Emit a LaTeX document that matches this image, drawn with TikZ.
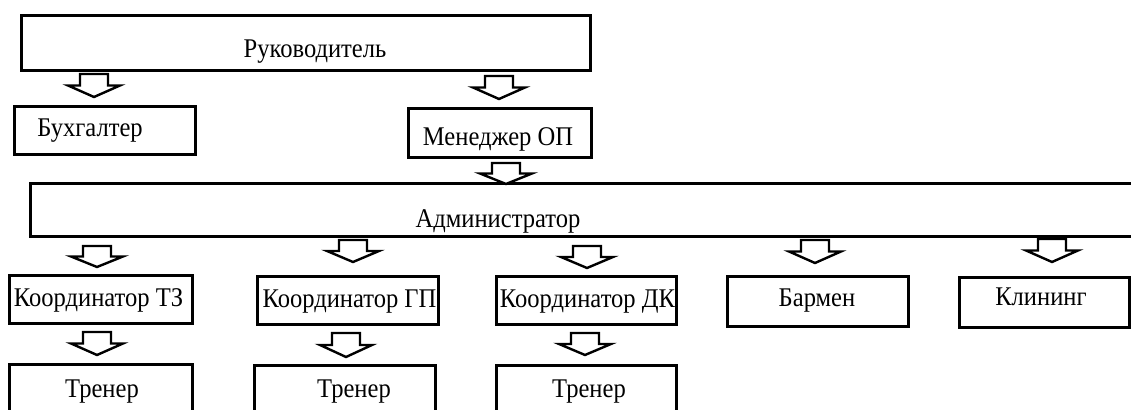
\documentclass[tikz,border=0pt]{standalone}
\usepackage{fontspec}
\setmainfont{Liberation Serif}[FakeStretch=0.91]
\newcommand\blockarr[3]{% tip x, top y, tip y
  \draw[barr] (#1-14,#2) -- (#1+14,#2) -- (#1+14,{(#2+#3)/2}) -- (#1+26,{(#2+#3)/2})
    -- (#1,#3) -- (#1-26,{(#2+#3)/2}) -- (#1-14,{(#2+#3)/2}) -- cycle;}
\begin{document}
\begin{tikzpicture}[x=0.5pt,y=-0.5pt,
  box/.style={draw, line width=1.5pt, inner sep=0pt, outer sep=0pt, anchor=north west},
  lbl/.style={anchor=base, inner sep=0pt, font=\fontsize{13.5pt}{16pt}\selectfont},
  barr/.style={draw, line width=1.2pt, fill=white, line join=miter}]
\useasboundingbox (0,0) rectangle (1131,410);
\clip (0,0) rectangle (1131,410);
% boxes
\node[box, minimum width=569*0.5pt, minimum height=55*0.5pt] (ruk) at (21,16) {};
\node[box, minimum width=181*0.5pt, minimum height=48*0.5pt] (buh) at (14,107) {};
\node[box, minimum width=183*0.5pt, minimum height=49*0.5pt] (men) at (408,109) {};
\node[box, minimum width=1200*0.5pt, minimum height=53*0.5pt] (adm) at (30,184) {};
\node[box, minimum width=183*0.5pt, minimum height=48*0.5pt] (ktz) at (9,276) {};
\node[box, minimum width=181*0.5pt, minimum height=48*0.5pt] (kgp) at (257,277) {};
\node[box, minimum width=180*0.5pt, minimum height=48*0.5pt] (kdk) at (496,277) {};
\node[box, minimum width=181*0.5pt, minimum height=50*0.5pt] (bar) at (727,277) {};
\node[box, minimum width=170*0.5pt, minimum height=50*0.5pt] (kli) at (959,278) {};
\node[box, minimum width=183*0.5pt, minimum height=80*0.5pt] (tr1) at (9,365) {};
\node[box, minimum width=181*0.5pt, minimum height=80*0.5pt] (tr2) at (254,366) {};
\node[box, minimum width=180*0.5pt, minimum height=80*0.5pt] (tr3) at (496,366) {};
% labels
\node[lbl] (rukt) at (315,58) {Руководитель};
\node[lbl] (buht) at (90,137) {Бухгалтер};
\node[lbl] (ment) at (498,146) {Менеджер ОП};
\node[lbl] (admt) at (498,228) {Администратор};
\node[lbl] (ktzt) at (98.5,307) {Координатор ТЗ};
\node[lbl] (kgpt) at (349.5,308) {Координатор ГП};
\node[lbl] (kdkt) at (587.5,308) {Координатор ДК};
\node[lbl] (bart) at (817,307) {Бармен};
\node[lbl] (klit) at (1041,306) {Клининг};
\node[lbl] (tr1t) at (102,398) {Тренер};
\node[lbl] (tr2t) at (354,398) {Тренер};
\node[lbl] (tr3t) at (589,398) {Тренер};
% block arrows
\blockarr{94}{74}{97}
\blockarr{499}{76}{99}
\blockarr{506}{163}{184}
\blockarr{97}{246}{267}
\blockarr{353}{240}{262}
\blockarr{587}{246}{268}
\blockarr{815}{240}{263}
\blockarr{1052}{239}{262}
\blockarr{97}{332}{355}
\blockarr{346}{333}{357}
\blockarr{585}{333}{355}
\end{tikzpicture}
\end{document}
